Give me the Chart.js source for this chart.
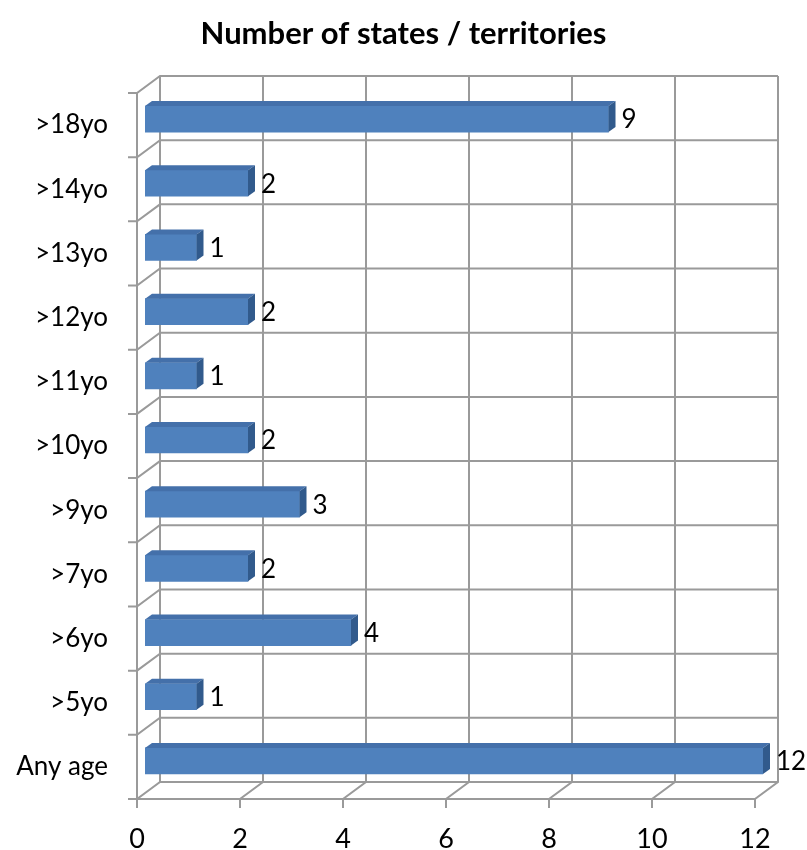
<!DOCTYPE html>
<html>
<head>
<meta charset="utf-8">
<script src="https://cdn.jsdelivr.net/npm/chart.js@4.4.1/dist/chart.umd.min.js"></script>
<style>
  html, body { margin: 0; padding: 0; background: #fff; }
  #wrap { width: 807px; height: 850px; }
</style>
</head>
<body>
<div id="wrap"><canvas id="ageChart" width="807" height="850"></canvas></div>
<script>
const chartTitle = 'Number of states / territories';
const categories = ['>18yo', '>14yo', '>13yo', '>12yo', '>11yo', '>10yo', '>9yo', '>7yo', '>6yo', '>5yo', 'Any age'];
const stateCounts = [9, 2, 1, 2, 1, 2, 3, 2, 4, 1, 12];
const xTicks = [0, 2, 4, 6, 8, 10, 12];

const FONT = 'Lato, "Open Sans", sans-serif';
const DEPTH_X = 23, DEPTH_Y = 17;   // wall depth
const BAR_DX = 8, BAR_DY = -6;      // bar sits inside the depth
const TOP_DX = 7, TOP_DY = 5;       // bar thickness in depth
const GRID = '#9a9a9a';

// draws the 3d box: back wall, left wall, floor
const wallsPlugin = {
    id: 'walls',
    beforeDatasetsDraw(chart) {
        const { ctx, chartArea: a, scales: { x, y } } = chart;
        const n = categories.length;
        const step = (a.bottom - a.top) / n;
        ctx.save();
        ctx.strokeStyle = GRID;
        ctx.lineWidth = 2;
        ctx.beginPath();
        // back wall verticals + floor diagonals + x ticks
        xTicks.forEach(v => {
            const px = x.getPixelForValue(v);
            ctx.moveTo(px + DEPTH_X, a.top - DEPTH_Y);
            ctx.lineTo(px + DEPTH_X, a.bottom - DEPTH_Y);
            ctx.lineTo(px, a.bottom);
            ctx.lineTo(px, a.bottom + 9);
        });
        // back wall horizontals + left wall diagonals + y ticks
        for (let i = 0; i <= n; i++) {
            const py = a.top + i * step;
            ctx.moveTo(a.right + DEPTH_X, py - DEPTH_Y);
            ctx.lineTo(a.left + DEPTH_X, py - DEPTH_Y);
            ctx.lineTo(a.left, py);
            ctx.lineTo(a.left - 9, py);
        }
        // front axes
        ctx.moveTo(a.left, a.top);
        ctx.lineTo(a.left, a.bottom);
        ctx.lineTo(a.right, a.bottom);
        ctx.stroke();
        ctx.restore();

        ctx.save();
        ctx.translate(BAR_DX, BAR_DY);
    },
    afterDatasetsDraw(chart) {
        const { ctx } = chart;
        const meta = chart.getDatasetMeta(0);
        meta.data.forEach((bar, i) => {
            const top = bar.y - bar.height / 2;
            const bot = bar.y + bar.height / 2;
            // top face
            ctx.fillStyle = '#4470aa';
            ctx.beginPath();
            ctx.moveTo(bar.base, top);
            ctx.lineTo(bar.x, top);
            ctx.lineTo(bar.x + TOP_DX, top - TOP_DY);
            ctx.lineTo(bar.base + TOP_DX, top - TOP_DY);
            ctx.closePath();
            ctx.fill();
            // side face
            ctx.fillStyle = '#315a8c';
            ctx.beginPath();
            ctx.moveTo(bar.x, top);
            ctx.lineTo(bar.x + TOP_DX, top - TOP_DY);
            ctx.lineTo(bar.x + TOP_DX, bot - TOP_DY);
            ctx.lineTo(bar.x, bot);
            ctx.closePath();
            ctx.fill();
            // value label
            ctx.fillStyle = '#000';
            ctx.font = '26px ' + FONT;
            ctx.textAlign = 'left';
            ctx.textBaseline = 'middle';
            ctx.fillText(String(stateCounts[i]), bar.x + TOP_DX + 6, bar.y + 1);
        });
        ctx.restore();
    },
    afterDraw(chart) {
        // title is centred on the whole picture, not on the layout box
        const { ctx, width } = chart;
        ctx.save();
        ctx.fillStyle = '#000';
        ctx.font = 'bold 31px ' + FONT;
        ctx.textAlign = 'center';
        ctx.textBaseline = 'middle';
        ctx.fillText(chartTitle, width / 2, 34);
        ctx.restore();
    }
};

new Chart(document.getElementById('ageChart'), {
    type: 'bar',
    data: {
        labels: categories,
        datasets: [{
            data: stateCounts,
            backgroundColor: '#4f81bd',
            borderWidth: 0,
            barThickness: 26
        }]
    },
    options: {
        indexAxis: 'y',
        responsive: false,
        animation: false,
        layout: { padding: { left: 0, right: 52, top: 93, bottom: 0 } },
        scales: {
            x: {
                min: 0,
                max: 12,
                afterBuildTicks: s => { s.ticks = xTicks.map(v => ({ value: v })); },
                afterFit: s => { s.height = 51; },
                grid: { display: false, drawTicks: false },
                border: { display: false },
                ticks: { color: '#000', font: { family: FONT, size: 27 }, padding: 24 }
            },
            y: {
                afterFit: s => { s.width = 137; },
                grid: { display: false, drawTicks: false },
                border: { display: false },
                ticks: { color: '#000', font: { family: FONT, size: 26 }, padding: 29 }
            }
        },
        plugins: {
            legend: { display: false },
            tooltip: { enabled: false },
            title: { display: false }
        }
    },
    plugins: [wallsPlugin]
});
</script>
</body>
</html>
